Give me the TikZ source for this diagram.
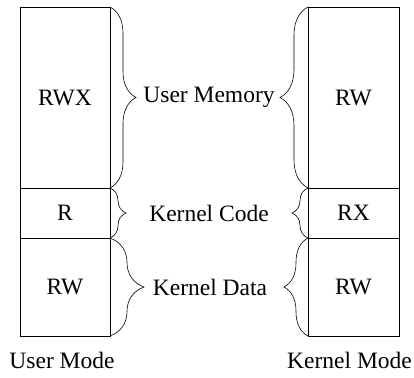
\documentclass[tikz,border=0pt]{standalone}
\usepackage{fontspec}
\setmainfont{Liberation Serif}
\usetikzlibrary{positioning,decorations.pathreplacing}
\tikzset{
  mem/.style={draw, line width=0.8pt, inner sep=0pt, outer sep=0pt, minimum width=#1},
  curly/.style={decorate, line width=0.6pt, decoration={brace, amplitude=#1}},
  region/.style={inner sep=0pt}
}
\begin{document}
\begin{tikzpicture}[x=1pt, y=-1pt, font=\fontsize{23.5}{27}\selectfont]
    \useasboundingbox (0,0) rectangle (414,377);

    % Columna modo usuario
    \node[mem=90pt, minimum height=181pt] (umemU) at (65,97.5) {RWX};
    \node[mem=90pt, minimum height=50pt, below=0pt of umemU] (kcodeU) {R};
    \node[mem=90pt, minimum height=98pt, below=0pt of kcodeU] (kdataU) {RW};
    \node[below=13pt of kdataU, xshift=-3pt] (modeU) {User Mode};

    % Columna modo kernel
    \node[mem=91pt, minimum height=181pt] (umemK) at (353.5,97.5) {RW};
    \node[mem=91pt, minimum height=50pt, below=0pt of umemK] (kcodeK) {RX};
    \node[mem=91pt, minimum height=98pt, below=0pt of kcodeK] (kdataK) {RW};
    \node[below=13pt of kdataK, xshift=-4pt] (modeK) {Kernel Mode};

    % Nombres de las regiones
    \node[region] (umem) at (209,97.5) {User Memory};
    \node[region] (kcode) at (209,213) {Kernel Code};
    \node[region] (kdata) at (210,287) {Kernel Data};

    % Llaves izquierdas
    \draw[curly=26pt] (umemU.north east) -- (umemU.south east);
    \draw[curly=16pt] (kcodeU.north east) -- (kcodeU.south east);
    \draw[curly=34pt] (kdataU.north east) -- (kdataU.south east);

    % Llaves derechas
    \draw[curly=28pt] (umemK.south west) -- (umemK.north west);
    \draw[curly=16pt] (kcodeK.south west) -- (kcodeK.north west);
    \draw[curly=24pt] (kdataK.south west) -- (kdataK.north west);
\end{tikzpicture}
\end{document}
